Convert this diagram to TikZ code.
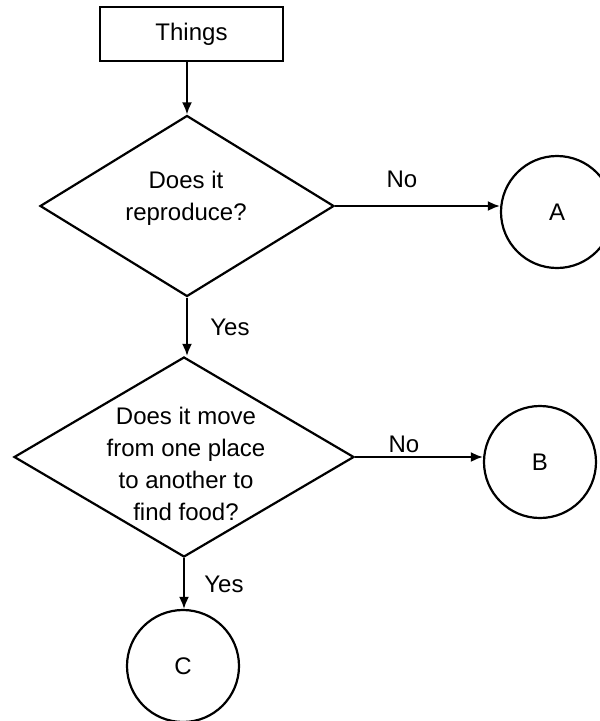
\documentclass[tikz,border=0pt]{standalone}
\usepackage{fontspec}
\setmainfont{Liberation Sans}
\usetikzlibrary{shapes.geometric,arrows.meta}
\begin{document}
\begin{tikzpicture}[x=1pt,y=-1pt,
  every node/.style={font=\fontsize{24}{32}\selectfont, inner sep=0pt},
  boxnode/.style={draw, line width=2pt, minimum width=183pt, minimum height=54pt},
  dia/.style={draw, diamond, line width=2.2pt, inner sep=0pt},
  circ/.style={draw, circle, line width=2.2pt, minimum size=112pt},
  txt/.style={align=center},
  arr/.style={line width=2pt, -{Latex[length=12pt,width=10pt]}}
]
\useasboundingbox (0,0) rectangle (600,721);
\node[boxnode] (things) at (191.5,34) {Things};
\node[dia, minimum width=294pt, minimum height=181pt] (d1) at (187,206) {};
\node[txt] (t1) at (186,198) {Does it\\reproduce?};
\node[circ] (A) at (557,212) {A};
\node[dia, minimum width=340pt, minimum height=200pt] (d2) at (184,457) {};
\node[txt] (t2) at (186,464) {Does it move\\from one place\\to another to\\find food?};
\node[circ] (B) at (540,462) {B};
\node[circ] (C) at (183,666) {C};
\node (no1) at (402,179) {No};
\node (yes1) at (230,327) {Yes};
\node (no2) at (404,444) {No};
\node (yes2) at (224,584) {Yes};
\draw[arr] (d1.north |- things.south) -- (d1.north);
\draw[arr] (d1.east) -- (d1.east -| A.west);
\draw[arr] (d1.south) -- (d1.south |- d2.north);
\draw[arr] (d2.east) -- (d2.east -| B.west);
\draw[arr] (d2.south) -- (d2.south |- C.north);
\end{tikzpicture}
\end{document}
